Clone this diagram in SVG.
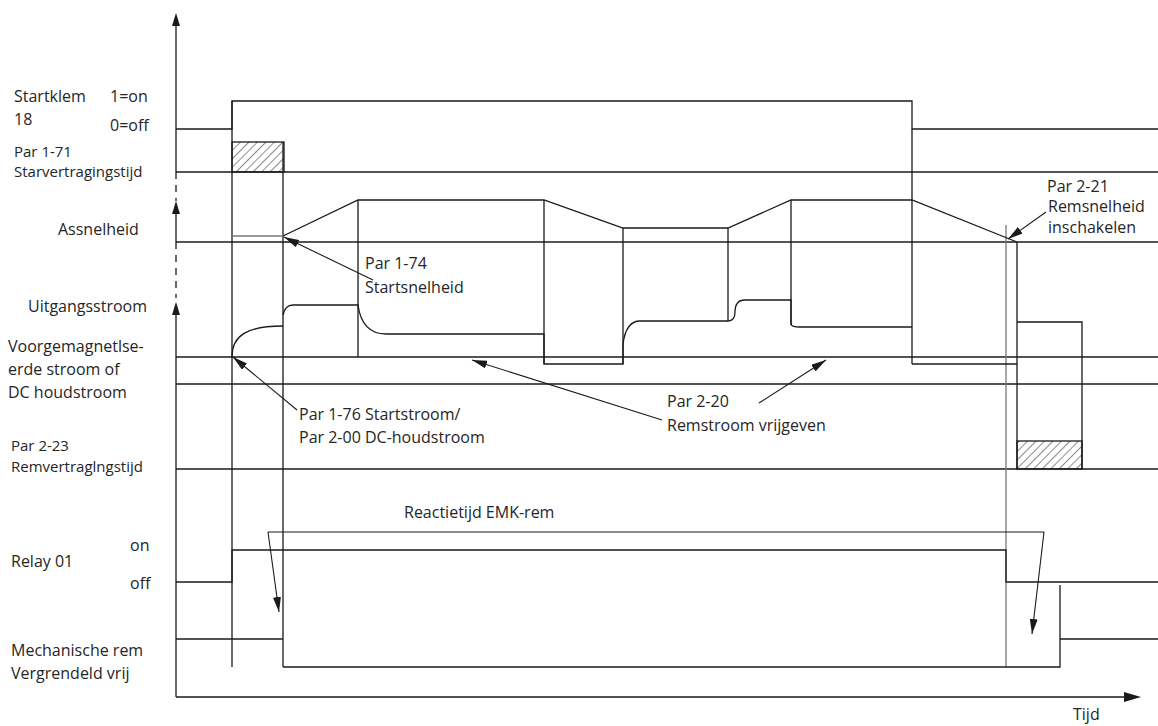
<svg xmlns="http://www.w3.org/2000/svg" width="1158" height="726" viewBox="0 0 1158 726">
<style>
.t{font-family:"Open Sans","Noto Sans",sans-serif;font-size:16px;fill:#262626}
.s{font-size:15px}
.l{fill:none;stroke:#1a1a1a;stroke-width:1.3}
.g{fill:none;stroke:#777;stroke-width:1.3}
.a{fill:none;stroke:#1a1a1a;stroke-width:1.1}
.h{fill:url(#hatch);stroke:#1a1a1a;stroke-width:1.3}
</style>
<defs>
<pattern id="hatch" patternUnits="userSpaceOnUse" width="6" height="6" patternTransform="rotate(45)">
<line x1="0" y1="0" x2="0" y2="6" stroke="#1a1a1a" stroke-width="1"/>
</pattern>
<marker id="arr" viewBox="0 0 15 8" refX="15" refY="4" markerWidth="15" markerHeight="8" orient="auto" markerUnits="userSpaceOnUse">
<path d="M0,0 L15,4 L0,8 z" fill="#1a1a1a"/>
</marker>
</defs>

<g id="axes">
<line class="l" x1="176" y1="22" x2="176" y2="172"/>
<polygon points="176,13 172,26 180,26" fill="#1a1a1a"/>
<line class="l" x1="176" y1="172" x2="176" y2="201" stroke-dasharray="7,6"/>
<line class="l" x1="176" y1="210" x2="176" y2="242"/>
<polygon points="176,201 172,214 180,214" fill="#1a1a1a"/>
<line class="l" x1="176" y1="242" x2="176" y2="298" stroke-dasharray="7,6"/>
<line class="l" x1="176" y1="310" x2="176" y2="697"/>
<polygon points="176,302 172,315 180,315" fill="#1a1a1a"/>
<line class="l" x1="176" y1="697" x2="1128" y2="697"/>
<polygon points="1141,697 1124,692 1124,702" fill="#1a1a1a"/>
</g>

<g id="baselines">
<line class="l" x1="176" y1="172" x2="1158" y2="172"/>
<line class="l" x1="176" y1="242" x2="1158" y2="242"/>
<line class="l" x1="176" y1="357" x2="1158" y2="357"/>
<line class="l" x1="176" y1="384" x2="1158" y2="384"/>
<line class="l" x1="176" y1="469" x2="1158" y2="469"/>
</g>

<g id="startklem">
<polyline class="l" points="176,129 232,129 232,101 912,101 912,129 1158,129"/>
<rect class="h" x="232" y="142" width="52" height="30"/>
</g>

<g id="verticals">
<line class="l" x1="232" y1="101" x2="232" y2="667"/>
<line class="l" x1="283" y1="142" x2="283" y2="667"/>
<line class="l" x1="912" y1="129" x2="912" y2="364"/>
<line class="g" x1="1006" y1="225" x2="1006" y2="667"/>
</g>

<g id="assnelheid">
<line class="g" x1="232" y1="236" x2="283" y2="236"/>
<polyline class="l" points="283,236 358,200 544,200 623,228 728,228 791,200 912,200 1017,242"/>
<line class="l" x1="358" y1="200" x2="358" y2="357"/>
<line class="l" x1="544" y1="200" x2="544" y2="364"/>
<line class="l" x1="623" y1="228" x2="623" y2="364"/>
<line class="l" x1="728" y1="228" x2="728" y2="321"/>
<line class="l" x1="791" y1="200" x2="791" y2="325"/>
</g>

<g id="uitgangsstroom">
<path class="l" d="M232,357 C232,336 246,326 283,326"/>
<path class="l" d="M283,315 Q285,305 293,305 L358,305 Q362,334 386,334 L544,334 L544,364 L623,364 L623,344 Q626,321 640,321 L728,321 Q735,321 735,312 Q735,300 745,300 L791,300 L791,324 Q791,327 800,327 L912,327"/>
<polyline class="l" points="912,364 1017,364"/>
<line class="l" x1="1017" y1="242" x2="1017" y2="469"/>
<polyline class="l" points="1017,322 1082,322 1082,469"/>
<rect class="h" x="1017" y="441" width="65" height="28"/>
</g>

<g id="relay">
<polyline class="l" points="176,582 232,582 232,550 1006,550 1006,582 1158,582"/>
</g>

<g id="mechrem">
<polyline class="l" points="176,639 283,639"/>
<polyline class="l" points="283,667 1060,667 1060,585"/>
<line class="l" x1="1060" y1="639" x2="1158" y2="639"/>
</g>

<g id="connectors">
<line class="a" x1="373" y1="280" x2="284" y2="237" marker-end="url(#arr)"/>
<line class="a" x1="297" y1="410" x2="233" y2="357" marker-end="url(#arr)"/>
<line class="a" x1="662" y1="420" x2="472" y2="360" marker-end="url(#arr)"/>
<line class="a" x1="759" y1="403" x2="826" y2="360" marker-end="url(#arr)"/>
<line class="a" x1="1046" y1="212" x2="1008" y2="239" marker-end="url(#arr)"/>
<polyline class="a" points="268,532 1044,532"/>
<line class="a" x1="268" y1="532" x2="279" y2="612" marker-end="url(#arr)"/>
<line class="a" x1="1044" y1="532" x2="1032" y2="634" marker-end="url(#arr)"/>
</g>

<g id="labels">
<text class="t" x="14" y="102">Startklem</text>
<text class="t" x="14" y="125">18</text>
<text class="t" x="110" y="102">1=on</text>
<text class="t" x="110" y="131">0=off</text>
<text class="t s" x="14" y="157">Par 1-71</text>
<text class="t s" x="14" y="177">Starvertragingstijd</text>
<text class="t" x="58" y="235">Assnelheid</text>
<text class="t" x="28" y="312">Uitgangsstroom</text>
<text class="t" x="8" y="352">Voorgemagnetlse-</text>
<text class="t" x="8" y="375">erde stroom of</text>
<text class="t" x="8" y="398">DC houdstroom</text>
<text class="t s" x="11" y="451">Par 2-23</text>
<text class="t s" x="11" y="472">Remvertraglngstijd</text>
<text class="t" x="11" y="567">Relay 01</text>
<text class="t" x="130" y="551">on</text>
<text class="t" x="130" y="589">off</text>
<text class="t" x="11" y="656">Mechanische rem</text>
<text class="t" x="11" y="679">Vergrendeld vrij</text>
<text class="t" x="365" y="269">Par 1-74</text>
<text class="t" x="365" y="293">Startsnelheid</text>
<text class="t" x="299" y="420">Par 1-76 Startstroom/</text>
<text class="t" x="299" y="443">Par 2-00 DC-houdstroom</text>
<text class="t" x="667" y="407">Par 2-20</text>
<text class="t" x="667" y="431">Remstroom vrijgeven</text>
<text class="t" x="1047" y="192">Par 2-21</text>
<text class="t" x="1048" y="212">Remsnelheid</text>
<text class="t" x="1048" y="233">inschakelen</text>
<text class="t" x="404" y="518">Reactietijd EMK-rem</text>
<text class="t" x="1073" y="720">Tijd</text>
</g>
</svg>
